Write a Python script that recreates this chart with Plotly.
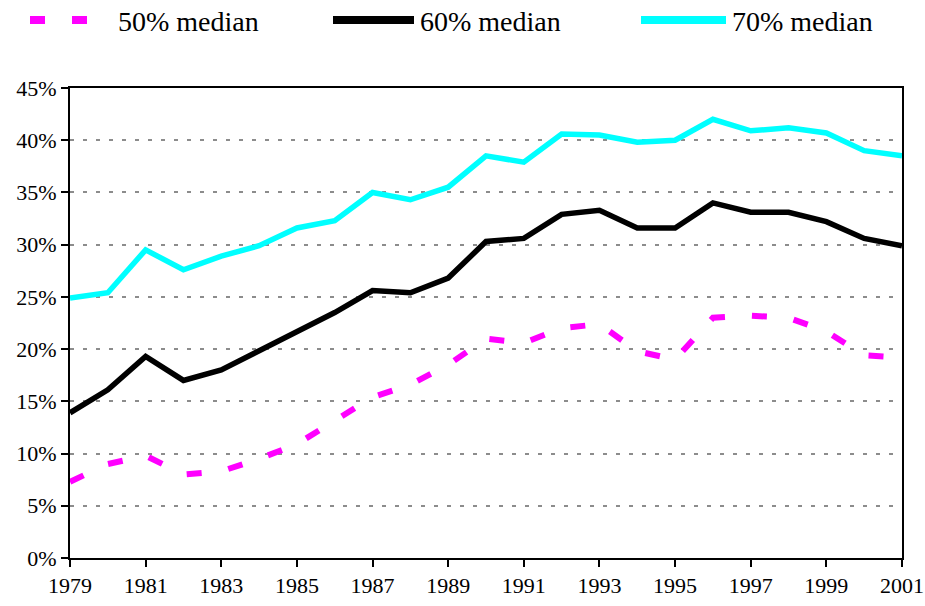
import plotly.graph_objects as go

years = list(range(1979, 2002))
median_50 = [7.3, 9.0, 9.8, 8.0, 8.3, 9.5, 10.9, 13.2, 15.4, 16.6, 18.5, 21.0, 20.6,
             22.0, 22.4, 19.8, 19.0, 23.0, 23.2, 23.0, 21.7, 19.4, 19.2]
median_60 = [13.9, 16.1, 19.3, 17.0, 18.0, 19.8, 21.6, 23.5, 25.6, 25.4, 26.8, 30.3, 30.6,
             32.9, 33.3, 31.6, 31.6, 34.0, 33.1, 33.1, 32.2, 30.6, 29.9]
median_70 = [24.9, 25.4, 29.5, 27.6, 28.9, 29.9, 31.6, 32.3, 35.0, 34.3, 35.5, 38.5, 37.9,
             40.6, 40.5, 39.8, 40.0, 42.0, 40.9, 41.2, 40.7, 39.0, 38.5]
series_names = ["50% median", "60% median", "70% median"]
x_ticks = list(range(1979, 2002, 2))
y_ticks = list(range(0, 50, 5))

FONT = "'Times New Roman', 'Liberation Serif', 'DejaVu Serif', serif"
W, H = 925, 606
ML, MR, MT, MB = 70, 23, 88, 48
PW, PH = W - ML - MR, H - MT - MB


def px(x):
    return (x - ML) / PW


def py(y):
    return (H - MB - y) / PH


colors = ["#FF00FF", "#000000", "#00FFFF"]
dashes = ["15px,27px", "solid", "solid"]
widths = [6, 5.5, 5.5]

fig = go.Figure()
for name, vals, c, d, w in zip(series_names, [median_50, median_60, median_70], colors, dashes, widths):
    fig.add_trace(go.Scatter(x=years, y=vals, mode="lines", name=name, showlegend=False,
                             line=dict(color=c, width=w, dash=d)))

# manual legend (layout decoration, in paper coordinates)
legend_items = [
    (30, 88, 116),
    (333, 414, 418),
    (641, 726, 730),
]
shapes = []
annotations = []
for (x0, x1, tx), name, c, d in zip(legend_items, series_names, colors, dashes):
    shapes.append(dict(type="line", xref="paper", yref="paper",
                       x0=px(x0), x1=px(x1), y0=py(20), y1=py(20),
                       line=dict(color=c, width=8, dash=d)))
    annotations.append(dict(xref="paper", yref="paper", x=px(tx), y=py(22),
                            xanchor="left", yanchor="middle", showarrow=False,
                            text=name, font=dict(family=FONT, size=28, color="black")))

fig.update_layout(
    width=W, height=H,
    margin=dict(l=ML, r=MR, t=MT, b=MB),
    paper_bgcolor="white", plot_bgcolor="white",
    font=dict(family=FONT, color="black", size=22),
    showlegend=False,
    shapes=shapes, annotations=annotations,
    xaxis=dict(range=[1979, 2001], tickmode="array", tickvals=x_ticks,
               ticktext=[str(t) for t in x_ticks], automargin=False,
               showline=True, linecolor="black", linewidth=2, mirror=True,
               ticks="outside", ticklen=7, tickwidth=2, tickcolor="black",
               showgrid=False, zeroline=False, tickfont=dict(size=22, family=FONT)),
    yaxis=dict(range=[0, 45], tickmode="array", tickvals=y_ticks,
               ticktext=[f"{t}%" for t in y_ticks], automargin=False,
               showline=True, linecolor="black", linewidth=2, mirror=True,
               ticks="outside", ticklen=7, tickwidth=2, tickcolor="black",
               showgrid=True, gridcolor="#8c8c8c", gridwidth=2, griddash="4px,9px",
               zeroline=False, tickfont=dict(size=22, family=FONT)),
)

fig.write_html("out.html", config={"displayModeBar": False},
               post_script="document.body.style.margin='0';")
